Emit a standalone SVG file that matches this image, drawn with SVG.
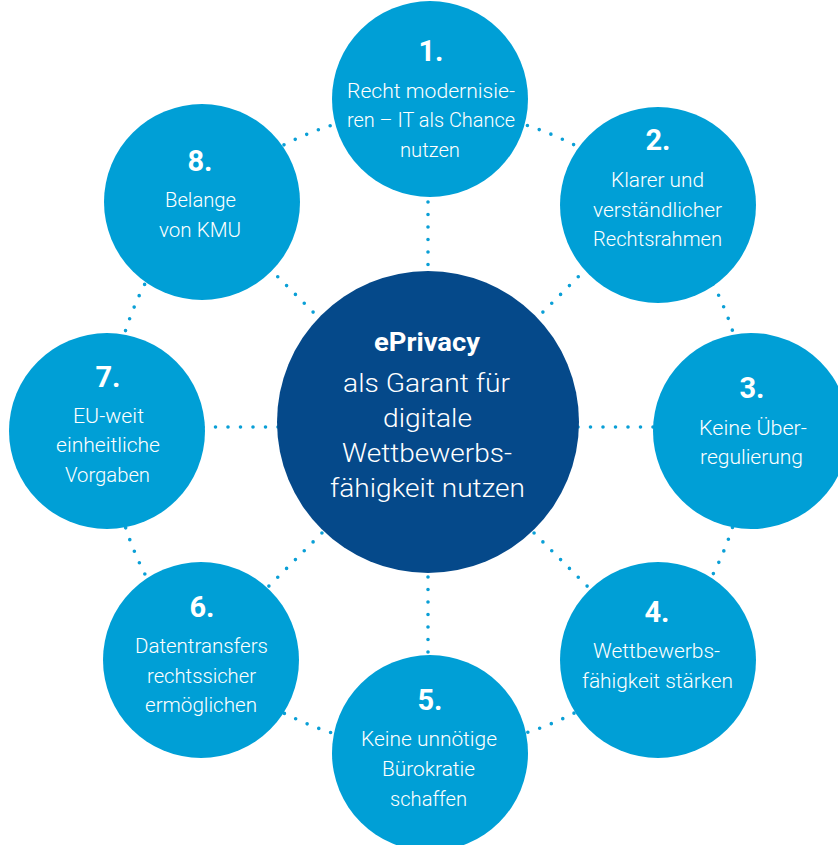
<svg xmlns="http://www.w3.org/2000/svg" width="838" height="845" viewBox="0 0 838 845">
<style>
.dot{fill:none;stroke:#0a9fd6;stroke-width:3.6;stroke-linecap:round;stroke-dasharray:0 12.5}
.outer{fill:#009fd6}
.core{fill:#05498a}
text{font-family:Roboto,"Open Sans","Liberation Sans",sans-serif;fill:#ffffff;text-anchor:middle}
.num{font-size:29px;font-weight:700}
.t{font-size:21px;font-weight:300}
.ct{font-size:25px;font-weight:300}
.cb{font-size:26px;font-weight:700}
</style>
<rect width="838" height="845" fill="#ffffff"/>
<g id="connectors">
<path class="dot" d="M429 110 A319 319 0 0 1 654.6 203.4"/>
<path class="dot" d="M654.6 203.4 A319 319 0 0 1 748 429"/>
<path class="dot" d="M748 429 A319 319 0 0 1 654.6 654.6"/>
<path class="dot" d="M654.6 654.6 A319 319 0 0 1 429 748"/>
<path class="dot" d="M429 748 A319 319 0 0 1 203.4 654.6"/>
<path class="dot" d="M203.4 654.6 A319 319 0 0 1 110 429"/>
<path class="dot" d="M110 429 A319 319 0 0 1 203.4 203.4"/>
<path class="dot" d="M203.4 203.4 A319 319 0 0 1 429 110"/>
<path class="dot" d="M428 427 L428 99"/>
<path class="dot" d="M428 427 L428 755"/>
<path class="dot" d="M428 427 L752 427"/>
<path class="dot" d="M428 427 L104 427"/>
<path class="dot" d="M428 427 L658 197"/>
<path class="dot" d="M428 427 L658 657"/>
<path class="dot" d="M428 427 L198 657"/>
<path class="dot" d="M428 427 L198 197"/>
</g>
<g id="center">
<circle class="core" cx="428" cy="422" r="151"/>
<text class="cb" x="427" y="351" textLength="106" lengthAdjust="spacingAndGlyphs">ePrivacy</text>
<text class="ct" x="426.5" y="392" textLength="167" lengthAdjust="spacingAndGlyphs">als Garant für</text>
<text class="ct" x="427.5" y="427" textLength="89" lengthAdjust="spacingAndGlyphs">digitale</text>
<text class="ct" x="427" y="462" textLength="170" lengthAdjust="spacingAndGlyphs">Wettbewerbs-</text>
<text class="ct" x="427.5" y="497" textLength="195" lengthAdjust="spacingAndGlyphs">fähigkeit nutzen</text>
</g>
<g id="node1">
<circle class="outer" cx="430" cy="99" r="98"/>
<text class="num" x="431" y="61">1.</text>
<text class="t" x="431" y="98" textLength="168" lengthAdjust="spacingAndGlyphs">Recht modernisie-</text>
<text class="t" x="431" y="127" textLength="168" lengthAdjust="spacingAndGlyphs">ren – IT als Chance</text>
<text class="t" x="430" y="157" textLength="60" lengthAdjust="spacingAndGlyphs">nutzen</text>
</g>
<g id="node2">
<circle class="outer" cx="658" cy="205" r="98"/>
<text class="num" x="658" y="150">2.</text>
<text class="t" x="657.5" y="187" textLength="93" lengthAdjust="spacingAndGlyphs">Klarer und</text>
<text class="t" x="657.5" y="217" textLength="129" lengthAdjust="spacingAndGlyphs">verständlicher</text>
<text class="t" x="657.5" y="246" textLength="129" lengthAdjust="spacingAndGlyphs">Rechtsrahmen</text>
</g>
<g id="node3">
<circle class="outer" cx="751" cy="431" r="98"/>
<text class="num" x="752" y="398">3.</text>
<text class="t" x="753" y="435" textLength="108" lengthAdjust="spacingAndGlyphs">Keine Über-</text>
<text class="t" x="751.5" y="464" textLength="103" lengthAdjust="spacingAndGlyphs">regulierung</text>
</g>
<g id="node4">
<circle class="outer" cx="658" cy="660" r="98"/>
<text class="num" x="657" y="622">4.</text>
<text class="t" x="656.5" y="658" textLength="127" lengthAdjust="spacingAndGlyphs">Wettbewerbs-</text>
<text class="t" x="657.5" y="688" textLength="151" lengthAdjust="spacingAndGlyphs">fähigkeit stärken</text>
</g>
<g id="node5">
<circle class="outer" cx="430" cy="753" r="98"/>
<text class="num" x="430" y="710">5.</text>
<text class="t" x="429" y="746" textLength="136" lengthAdjust="spacingAndGlyphs">Keine unnötige</text>
<text class="t" x="428.5" y="776" textLength="93" lengthAdjust="spacingAndGlyphs">Bürokratie</text>
<text class="t" x="428.5" y="806" textLength="77" lengthAdjust="spacingAndGlyphs">schaffen</text>
</g>
<g id="node6">
<circle class="outer" cx="201" cy="660" r="98"/>
<text class="num" x="202" y="617">6.</text>
<text class="t" x="201.5" y="653" textLength="133" lengthAdjust="spacingAndGlyphs">Datentransfers</text>
<text class="t" x="201.5" y="683" textLength="109" lengthAdjust="spacingAndGlyphs">rechtssicher</text>
<text class="t" x="201" y="712" textLength="112" lengthAdjust="spacingAndGlyphs">ermöglichen</text>
</g>
<g id="node7">
<circle class="outer" cx="107" cy="431" r="98"/>
<text class="num" x="108" y="387">7.</text>
<text class="t" x="108.5" y="423" textLength="71" lengthAdjust="spacingAndGlyphs">EU-weit</text>
<text class="t" x="108" y="452" textLength="104" lengthAdjust="spacingAndGlyphs">einheitliche</text>
<text class="t" x="107.5" y="482" textLength="85" lengthAdjust="spacingAndGlyphs">Vorgaben</text>
</g>
<g id="node8">
<circle class="outer" cx="202" cy="202" r="98"/>
<text class="num" x="200" y="171">8.</text>
<text class="t" x="200.5" y="207" textLength="71" lengthAdjust="spacingAndGlyphs">Belange</text>
<text class="t" x="200" y="237" textLength="82" lengthAdjust="spacingAndGlyphs">von KMU</text>
</g>
</svg>
